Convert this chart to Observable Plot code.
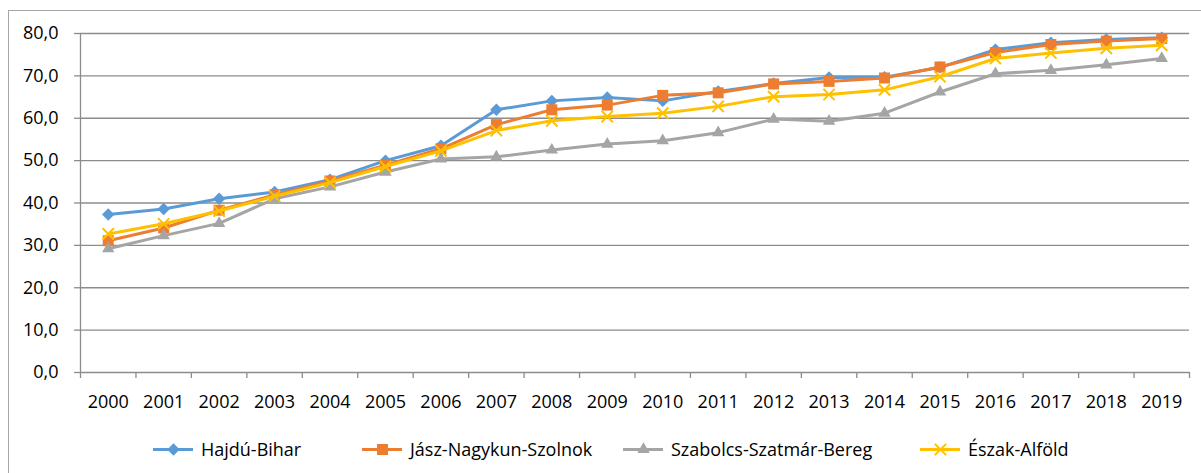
<!DOCTYPE html>
<html><head><meta charset="utf-8">
<script src="https://cdn.jsdelivr.net/npm/d3@7"></script>
<script src="https://cdn.jsdelivr.net/npm/@observablehq/plot@0.6"></script>
<style>
body{margin:0;background:#fff;font-family:"Open Sans",sans-serif;}
#wrap{position:relative;width:1201px;height:473px;overflow:hidden;background:#fff;}
#border{position:absolute;left:8px;top:10px;width:1300px;height:600px;border:1px solid #a6a6a6;}
#chart{position:absolute;left:0;top:0;}
#chart svg text{font-size:18px;font-family:"Open Sans",sans-serif;fill:#000;}
#legend{position:absolute;top:436px;left:0;width:1201px;height:26px;font-size:18px;color:#000;}
.item{position:absolute;top:0;display:flex;align-items:center;gap:8px;white-space:nowrap;line-height:26px;}
.item svg{display:block;}
</style></head><body>
<div id="wrap"><div id="border"></div><div id="chart"></div><div id="legend"></div></div>
<script>
const years = [2000,2001,2002,2003,2004,2005,2006,2007,2008,2009,2010,2011,2012,2013,2014,2015,2016,2017,2018,2019];
const hajdu = [37.3,38.6,41.0,42.6,45.5,50.0,53.5,62.0,64.1,64.9,64.1,66.3,68.2,69.6,69.7,72.0,76.2,77.8,78.6,79.0];
const jasz  = [31.1,34.1,38.3,41.9,45.2,48.9,52.8,58.5,62.0,63.1,65.4,66.0,68.1,68.7,69.5,72.1,75.5,77.4,78.2,78.8];
const szab  = [29.2,32.3,35.2,41.0,43.8,47.3,50.4,50.9,52.5,53.9,54.7,56.6,59.8,59.3,61.2,66.2,70.5,71.3,72.6,74.1];
const eszak = [32.7,35.1,38.1,41.6,44.8,48.6,52.3,57.1,59.4,60.4,61.2,62.8,65.1,65.6,66.7,69.8,74.1,75.4,76.5,77.2];
const seriesNames = ["Hajdú-Bihar","Jász-Nagykun-Szolnok","Szabolcs-Szatmár-Bereg","Észak-Alföld"];
const yTicks = [0,10,20,30,40,50,60,70,80];

const colors = ["#5B9BD5","#ED7D31","#A5A5A5","#FFC000"];
const symbols = ["diamond2","square","triangle","times"];
const radii = [5.6,6.2,4.6,5.2];
const valueSets = [hajdu,jasz,szab,eszak];
const gray = "#8c8c8c";
const fmt = d => d.toFixed(1).replace(".", ",");

const rows = seriesNames.flatMap((name,s) => years.map((year,i) => ({year, value: valueSets[s][i], name})));
const xDomain = [years[0]-0.5, years[years.length-1]+0.5];
const bounds = years.map(y => y-0.5).concat([years[years.length-1]+0.5]);

const seriesMarks = seriesNames.flatMap((name,s) => {
  const data = rows.filter(d => d.name === name);
  const stroked = symbols[s] === "times";
  return [
    Plot.line(data, {x:"year", y:"value", stroke: colors[s], strokeWidth: 3, strokeLinejoin:"round"}),
    Plot.dot(data, stroked
      ? {x:"year", y:"value", symbol: symbols[s], r: radii[s], stroke: colors[s], strokeWidth: 2, fill: "none"}
      : {x:"year", y:"value", symbol: symbols[s], r: radii[s], fill: colors[s], stroke: "none"})
  ];
});

const chart = Plot.plot({
  width: 1201, height: 425,
  marginLeft: 80, marginRight: 12, marginTop: 33, marginBottom: 53,
  style: {fontFamily: "'Open Sans', sans-serif", fontSize: "18px", background: "transparent", color: "#000"},
  x: {type: "linear", domain: xDomain},
  y: {domain: [0, 80]},
  marks: [
    Plot.gridY({ticks: yTicks, stroke: gray, strokeOpacity: 1, strokeWidth: 1.3}),
    Plot.ruleX([xDomain[0]], {stroke: gray, strokeWidth: 1.3}),
    Plot.axisY({ticks: yTicks, tickSize: 6, tickFormat: () => "", stroke: gray, strokeWidth: 1.3, label: null}),
    Plot.axisY({ticks: yTicks, tickSize: 0, tickPadding: 22, tickFormat: fmt, fontSize: 18, label: null}),
    Plot.axisX({ticks: bounds, tickSize: 6, tickFormat: () => "", stroke: gray, strokeWidth: 1.3, label: null}),
    Plot.axisX({ticks: years, tickSize: 0, tickPadding: 23, tickFormat: d => String(d), fontSize: 18, label: null}),
    ...seriesMarks
  ]
});
document.getElementById("chart").appendChild(chart);

// legend
const legendX = [153, 362, 623, 920];
const legend = document.getElementById("legend");
seriesNames.forEach((name, s) => {
  const item = document.createElement("div");
  item.className = "item";
  item.style.left = legendX[s] + "px";
  const sw = Plot.plot({
    width: 40, height: 26, margin: 0,
    x: {domain: [0, 2], axis: null}, y: {domain: [0, 2], axis: null},
    style: {background: "transparent"},
    marks: [
      Plot.line([[0,1],[2,1]], {stroke: colors[s], strokeWidth: 3}),
      Plot.dot([[1,1]], symbols[s] === "times"
        ? {symbol: symbols[s], r: radii[s], stroke: colors[s], strokeWidth: 2, fill: "none"}
        : {symbol: symbols[s], r: radii[s], fill: colors[s], stroke: "none"})
    ]
  });
  item.appendChild(sw);
  const t = document.createElement("span");
  t.textContent = name;
  item.appendChild(t);
  legend.appendChild(item);
});
</script>
</body></html>
